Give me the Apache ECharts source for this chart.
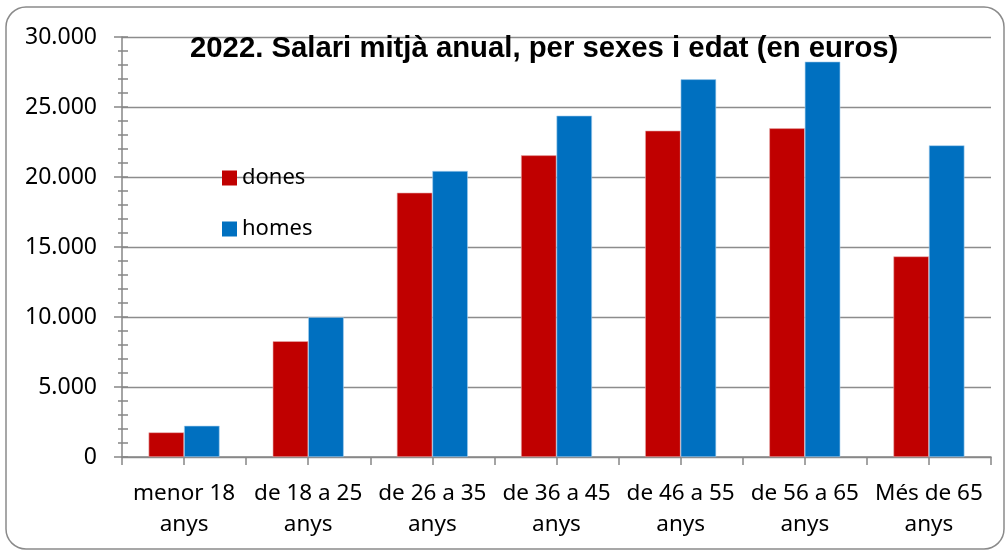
<!DOCTYPE html>
<html>
<head>
<meta charset="utf-8">
<script src="https://cdn.jsdelivr.net/npm/echarts@6/dist/echarts.min.js"></script>
<style>html,body{margin:0;padding:0;background:#fff;}#c{width:1007px;height:551px;}</style>
</head>
<body>
<div id="c"></div>
<script>
const titleText = '2022. Salari mitjà anual, per sexes i edat (en euros)';
const categories = ['menor 18\nanys', 'de 18 a 25\nanys', 'de 26 a 35\nanys', 'de 36 a 45\nanys', 'de 46 a 55\nanys', 'de 56 a 65\nanys', 'Més de 65\nanys'];
const dones = [1760, 8270, 18880, 21550, 23310, 23480, 14330];
const homes = [2230, 9990, 20430, 24380, 26980, 28240, 22260];
const yTicks = [0, 5000, 10000, 15000, 20000, 25000, 30000];

const chart = echarts.init(document.getElementById('c'), null, {renderer: 'canvas'});
const font = 'Noto Sans';
const axisGray = '#868686';
const fmt = v => v === 0 ? '0' : String(v).replace(/\B(?=(\d{3})+(?!\d))/g, '.');

chart.setOption({
  animation: false,
  backgroundColor: '#fff',
  graphic: [{
    type: 'rect', silent: true, z: -10,
    shape: {x: 6, y: 7, width: 998, height: 542, r: 20},
    style: {fill: 'none', stroke: '#8a8a8a', lineWidth: 1.5}
  }],
  title: {
    text: titleText, left: 190, top: 34, padding: 0,
    textStyle: {fontFamily: 'Liberation Sans', fontWeight: 'bold', fontSize: 29.3, color: '#000'}
  },
  legend: {
    orient: 'vertical', left: 222, top: 167, padding: 0, itemWidth: 15, itemHeight: 15, itemGap: 29,
    icon: 'rect',
    itemStyle: {borderWidth: 0},
    textStyle: {fontFamily: font, fontSize: 22, color: '#000'},
    data: ['dones', 'homes']
  },
  grid: {left: 122, right: 16, top: 37, bottom: 94, containLabel: false},
  xAxis: [{
    type: 'category', data: categories, position: 'bottom',
    axisLine: {show: true, lineStyle: {color: axisGray, width: 1.5}},
    axisTick: {show: true, length: 8, interval: 0, lineStyle: {color: axisGray, width: 1.5}},
    axisLabel: {fontFamily: font, fontSize: 22.5, color: '#000', lineHeight: 31, margin: 21, interval: 0}
  }, {
    type: 'category', data: categories, position: 'bottom',
    axisLine: {show: false},
    axisTick: {show: true, alignWithLabel: true, length: 8, interval: 0, lineStyle: {color: axisGray, width: 1.5}},
    axisLabel: {show: false}
  }],
  yAxis: [{
    type: 'value', min: yTicks[0], max: yTicks[yTicks.length - 1], interval: yTicks[1] - yTicks[0],
    axisLine: {show: true, lineStyle: {color: axisGray, width: 1.5}},
    axisTick: {show: true, length: 8, lineStyle: {color: axisGray, width: 1.5}},
    minorTick: {show: true, splitNumber: 5, length: 4, lineStyle: {color: axisGray, width: 1.5}},
    axisLabel: {fontFamily: font, fontSize: 23, color: '#000', margin: 25, formatter: fmt},
    splitLine: {show: true, lineStyle: {color: '#8c8c8c', width: 1.4}}
  }, {
    type: 'value', position: 'left', min: yTicks[0], max: yTicks[yTicks.length - 1], interval: yTicks[1] - yTicks[0],
    axisLine: {show: false},
    axisTick: {show: true, inside: true, length: 6, lineStyle: {color: axisGray, width: 1.5}},
    minorTick: {show: true, splitNumber: 5, length: 6, lineStyle: {color: axisGray, width: 1.5}},
    axisLabel: {show: false},
    splitLine: {show: false}
  }],
  series: [{
    name: 'dones', type: 'bar', data: dones, barWidth: 35.5, barGap: '0%',
    itemStyle: {color: '#C00000', borderColor: '#e8b0b0', borderWidth: 0.6}
  }, {
    name: 'homes', type: 'bar', data: homes, barWidth: 35.5, barGap: '0%',
    itemStyle: {color: '#0070C0', borderColor: '#a8d0ee', borderWidth: 0.6}
  }]
});
</script>
</body>
</html>
